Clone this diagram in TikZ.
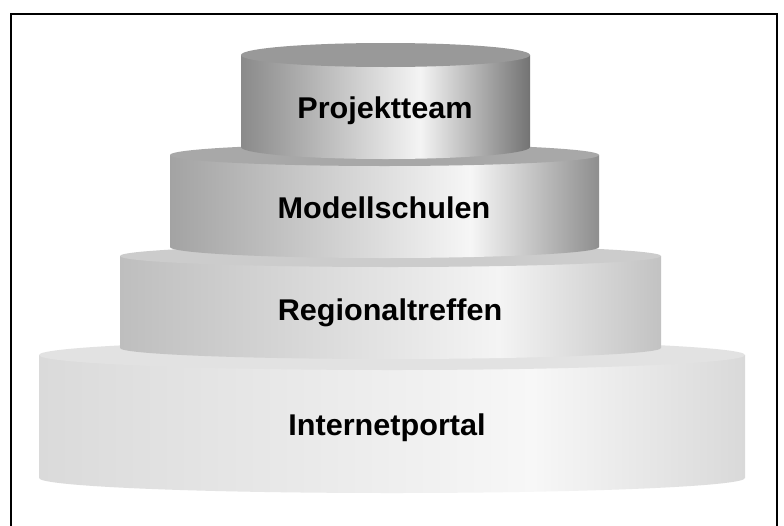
\documentclass[tikz,border=0pt]{standalone}
\usepackage{fontspec}
\setmainfont{Liberation Sans}

% colours of the four tiers: top face, side left, side highlight, side right
\definecolor{topA}{HTML}{999999}
\definecolor{sideAl}{HTML}{8A8A8A}
\definecolor{sideAh}{HTML}{F4F4F4}
\definecolor{sideAr}{HTML}{737373}
\definecolor{topB}{HTML}{A8A8A8}
\definecolor{sideBl}{HTML}{A3A3A3}
\definecolor{sideBh}{HTML}{F6F6F6}
\definecolor{sideBr}{HTML}{8E8E8E}
\definecolor{topC}{HTML}{CCCCCC}
\definecolor{sideCl}{HTML}{BEBEBE}
\definecolor{sideCh}{HTML}{F4F4F4}
\definecolor{sideCr}{HTML}{C2C2C2}
\definecolor{topD}{HTML}{E2E2E2}
\definecolor{sideDl}{HTML}{DADADA}
\definecolor{sideDh}{HTML}{F7F7F7}
\definecolor{sideDr}{HTML}{D9D9D9}

% side shadings: the path's width maps onto 25bp..75bp
\pgfdeclarehorizontalshading{cylA}{100bp}{color(0bp)=(sideAl); color(25bp)=(sideAl); color(56bp)=(sideAh); color(75bp)=(sideAr); color(100bp)=(sideAr)}
\pgfdeclarehorizontalshading{cylB}{100bp}{color(0bp)=(sideBl); color(25bp)=(sideBl); color(60bp)=(sideBh); color(75bp)=(sideBr); color(100bp)=(sideBr)}
\pgfdeclarehorizontalshading{cylC}{100bp}{color(0bp)=(sideCl); color(25bp)=(sideCl); color(60bp)=(sideCh); color(75bp)=(sideCr); color(100bp)=(sideCr)}
\pgfdeclarehorizontalshading{cylD}{100bp}{color(0bp)=(sideDl); color(25bp)=(sideDl); color(60bp)=(sideDh); color(75bp)=(sideDr); color(100bp)=(sideDr)}

% #1 centre x, #2 half width, #3 top y, #4 bottom y, #5 ellipse half height, #6 shading, #7 top colour
\newcommand{\tier}[7]{%
  \shade[shading=#6] (#1-#2,#3) -- (#1-#2,#4)
     arc[start angle=180, end angle=0, x radius=#2, y radius=#5]
     -- (#1+#2,#3) -- cycle;
  \fill[#7] (#1,#3) ellipse[x radius=#2, y radius=#5];
}

\tikzset{
  label/.style={font=\fontsize{30}{33}\selectfont\bfseries, text=black, anchor=base, inner sep=0pt},
  frameline/.style={draw=black, line width=2pt}
}

\begin{document}
\begin{tikzpicture}[x=1pt, y=-1pt]
  \useasboundingbox (0,0) rectangle (784,525);
  \clip (0,0) rectangle (784,525);
  \fill[white] (0,0) rectangle (784,525);

  % outer frame, running past the lower edge
  \draw[frameline] (11,540) -- (11,14.3) -- (777,14.3) -- (777,540);

  % tiers, from the base upwards
  \tier{392}{353}{355}{478}{15}{cylD}{topD}
  \tier{390.5}{270.5}{256}{348}{11}{cylC}{topC}
  \tier{384.5}{214.5}{155}{247}{11}{cylB}{topB}
  \tier{385.5}{144.5}{55}{147}{12}{cylA}{topA}

  \node[label] (internet) at (387,435) {\scalebox{1.02}[1]{Internetportal}};
  \node[label] (regional) at (390,320) {\scalebox{1.02}[1]{Regionaltreffen}};
  \node[label] (modell) at (384,218) {\scalebox{1.02}[1]{Modellschulen}};
  \node[label] (projekt) at (385,118) {\scalebox{1.02}[1]{Projektteam}};
\end{tikzpicture}
\end{document}
